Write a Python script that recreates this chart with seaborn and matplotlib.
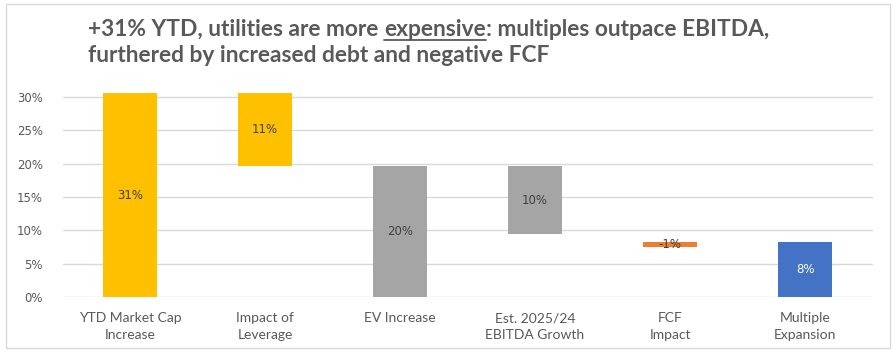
import matplotlib
matplotlib.use("Agg")
import matplotlib.pyplot as plt
from matplotlib.patches import Rectangle
from matplotlib.lines import Line2D
import seaborn as sns
import pandas as pd

steps = ["YTD Market Cap\nIncrease", "Impact of\nLeverage", "EV Increase",
         "Est. 2025/24\nEBITDA Growth", "FCF\nImpact", "Multiple\nExpansion"]
heights = [30.6, 10.9, 19.7, 10.3, -0.8, 8.3]   # % change shown by each bar
bases = [0.0, 19.7, 0.0, 9.4, 8.3, 0.0]          # where each bar starts
bar_colors = ["#FFC000", "#FFC000", "#A5A5A5", "#A5A5A5", "#ED7D31", "#4472C4"]
label_colors = ["#404040", "#404040", "#404040", "#404040", "#404040", "#FFFFFF"]
yticks = [0, 5, 10, 15, 20, 25, 30]

sns.set_theme(style="white")
plt.rcParams["font.family"] = ["Lato", "DejaVu Sans"]

df = pd.DataFrame({"step": steps, "height": heights, "base": bases})

fig = plt.figure(figsize=(8.96, 3.52), dpi=100)
ax = fig.add_axes([0.0698, 0.1563, 0.904, 0.587])

sns.barplot(data=df, x="step", y="height", bottom=df["base"], width=0.4,
            color="#A5A5A5", ax=ax, zorder=3)
for patch, c in zip(ax.patches, bar_colors):
    patch.set_facecolor(c)
    patch.set_edgecolor("none")

for i, (h, b, lc) in enumerate(zip(heights, bases, label_colors)):
    ax.text(i, b + h / 2, f"{h:.0f}%", ha="center", va="center",
            fontsize=8.5, color=lc, zorder=4, family="DejaVu Sans")

ax.set_ylim(0, 31)
ax.set_xlim(-0.5, len(steps) - 0.5)
ax.set_yticks(yticks)
ax.set_yticklabels([f"{t}%" for t in yticks], family="DejaVu Sans", fontsize=8.5)
ax.set_xticks(range(len(steps)))
ax.set_xticklabels(steps, fontsize=10, linespacing=1.45)
ax.yaxis.grid(True, color="#D9D9D9", linewidth=1, zorder=0)
ax.set_axisbelow(True)
for s in ax.spines.values():
    s.set_visible(False)
ax.set_xlabel("")
ax.set_ylabel("")
ax.tick_params(axis="both", length=0, colors="#595959")
ax.tick_params(axis="y", pad=14)
ax.tick_params(axis="x", pad=11)

# chart frame
fig.patches.append(Rectangle((6 / 896, 4 / 352), 884 / 896, 344 / 352,
                             transform=fig.transFigure, fill=False,
                             edgecolor="#D9D9D9", linewidth=1))

# title with the word "expensive" underlined
tkw = dict(fontsize=16.4, fontweight="bold", color="#595959", va="baseline")
x0, y1, y2 = 88 / 896, 1 - 36 / 352, 1 - 62 / 352
fig.canvas.draw()
r = fig.canvas.get_renderer()
t1 = fig.text(x0, y1, "+31% YTD, utilities are more ", **tkw)
bb = t1.get_window_extent(r)
t2 = fig.text(bb.x1 / fig.bbox.width, y1, "expensive", **tkw)
bb2 = t2.get_window_extent(r)
fig.text(bb2.x1 / fig.bbox.width, y1,
         ": multiples outpace EBITDA,", **tkw)
uy = y1 - 4 / 352
fig.add_artist(Line2D([bb2.x0 / fig.bbox.width, bb2.x1 / fig.bbox.width], [uy, uy],
                      transform=fig.transFigure, color="#595959", linewidth=1.3))
fig.text(x0, y2, "furthered by increased debt and negative FCF", **tkw)

fig.savefig("out.png", dpi=100)
